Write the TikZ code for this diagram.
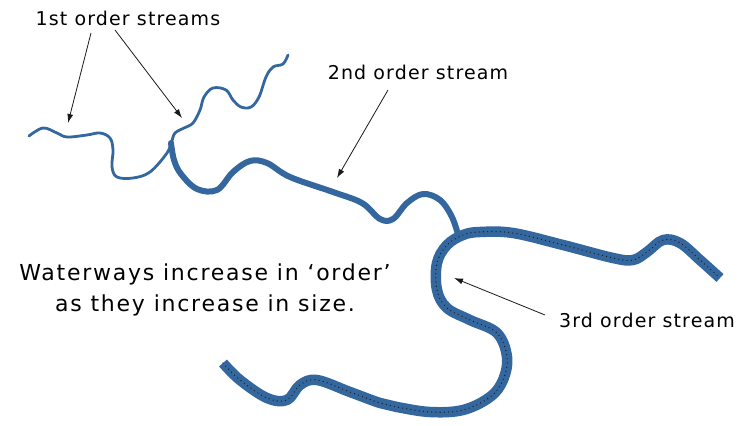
\documentclass[tikz,border=0pt]{standalone}
\usepackage{fontspec}
\setmainfont{DejaVu Sans}[LetterSpace=6]
\usetikzlibrary{arrows.meta}
\definecolor{river}{RGB}{52,103,158}
\definecolor{ink}{RGB}{25,25,30}
\begin{document}
\begin{tikzpicture}[x=1pt,y=-1pt,
  stream1/.style={draw=river,line width=2.8pt,line cap=round,line join=round},
  stream2/.style={draw=river,line width=6pt,line cap=round,line join=round},
  stream3/.style={draw=river,line width=10.5pt,line cap=butt,line join=round},
  riverdots/.style={draw=ink,line width=1.3pt,line cap=round,dash pattern=on 0pt off 4.2pt},
  pointer/.style={draw=ink,line width=0.8pt,-{Latex[length=9pt,width=6pt]}},
  label/.style={font=\fontsize{19}{20}\selectfont,text=black,inner sep=0pt}]
\useasboundingbox (0,0) rectangle (743,425);

% first order tributaries
\draw[stream1] plot[smooth,tension=0.6] coordinates {(29,136) (43,128) (57,133) (67,137) (87,135) (100,133) (110,138) (113,150) (112,167) (117,177) (133,178) (150,172) (167,153) (172,141)};
\draw[stream1] plot[smooth,tension=0.6] coordinates {(172,141) (175,133) (184,128) (193,123) (200,110) (204,97) (213,88) (226,90) (233,100) (241,107) (251,107) (259,97) (266,77) (273,67) (283,64) (288,55)};

% second order stream
\draw[stream2] plot[smooth,tension=0.6] coordinates {(171,143) (174,160) (181,174) (197,189) (217,190) (233,172) (250,161) (267,163) (290,177) (333,192) (362,203) (380,219) (393,219) (407,203) (423,194) (440,200) (452,217) (459,238)};

% third order stream with dotted centre line
\def\bigriver{(223,363) (240,380) (267,398) (287,400) (300,385) (317,380) (350,392) (380,403) (397,407) (430,412) (463,410) (490,397) (503,380) (507,357) (497,333) (470,320) (447,308) (437,290) (437,263) (447,245) (463,235) (480,232) (513,233) (563,245) (613,258) (633,260) (647,252) (663,240) (680,243) (700,260) (720,278)}
\draw[stream3] plot[smooth,tension=0.6] coordinates \bigriver;
\draw[riverdots] plot[smooth,tension=0.6] coordinates \bigriver;

% labels
\node[label] (first) at (128,18) {1st order streams};
\node[label] (second) at (418,72) {2nd order stream};
\node[label] (third) at (647,320) {3rd order stream};
\node[label,align=center,font=\fontsize{22}{31}\selectfont\addfontfeature{LetterSpace=8}] (note) at (205,290) {Waterways increase in ‘order’\\as they increase in size.};

% pointers
\coordinate (f1s) at (91,33);  \coordinate (f1e) at (68,123);
\coordinate (f2s) at (115,30); \coordinate (f2e) at (182,118);
\coordinate (s1s) at (388,90); \coordinate (s1e) at (337,178);
\coordinate (t1s) at (545,315); \coordinate (t1e) at (454,278);
\draw[pointer] (f1s) -- (f1e);
\draw[pointer] (f2s) -- (f2e);
\draw[pointer] (s1s) -- (s1e);
\draw[pointer] (t1s) -- (t1e);
\end{tikzpicture}
\end{document}
